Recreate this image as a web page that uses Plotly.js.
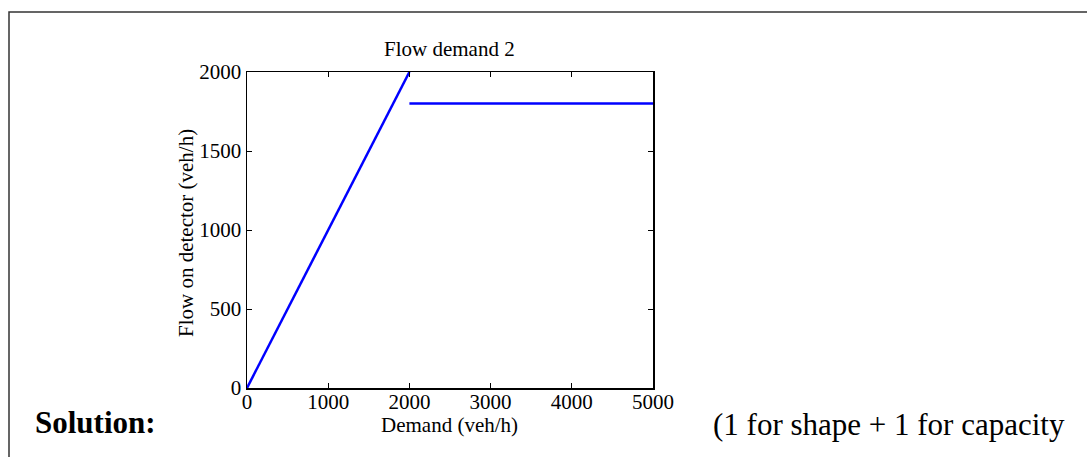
<!DOCTYPE html>
<html>
<head>
<meta charset="utf-8">
<script src="https://cdn.plot.ly/plotly-3.0.1.min.js"></script>
<style>
  html, body { margin: 0; padding: 0; background: #fff; }
  #chart { width: 1087px; height: 457px; }
</style>
</head>
<body>
<div id="chart"></div>
<script>
// Data
const risingDemand = [0, 2000];
const risingFlow = [0, 2000];
const capacityDemand = [2000, 5000];
const capacityFlow = [1800, 1800];
const xTicks = [0, 1000, 2000, 3000, 4000, 5000];
const yTicks = [0, 500, 1000, 1500, 2000];

const serif = 'Liberation Serif, Times New Roman, serif';
const L = 247, R = 653, T = 72, B = 388, W = 1087, H = 457;
const px2x = p => (p - L) / (R - L);
const py2y = p => (B - p) / (B - T);

const lineStyle = { color: '#0000ff', width: 2.5 };
const traces = [
  { x: risingDemand, y: risingFlow, mode: 'lines', line: lineStyle, hoverinfo: 'skip' },
  { x: capacityDemand, y: capacityFlow, mode: 'lines', line: lineStyle, hoverinfo: 'skip' }
];

const axisCommon = {
  showgrid: false, zeroline: false, showline: true, linecolor: '#000', linewidth: 1.5,
  mirror: 'ticks', ticks: 'inside', ticklen: 5, tickwidth: 1, tickcolor: '#000',
  tickfont: { family: serif, size: 21, color: '#000' }
};

const layout = {
  width: W, height: H,
  margin: { l: L, r: W - R, t: T, b: H - B, pad: 0 },
  paper_bgcolor: '#fff', plot_bgcolor: '#fff',
  showlegend: false,
  xaxis: Object.assign({}, axisCommon, {
    range: [0, 5000], tickvals: xTicks, ticktext: xTicks.map(String), ticklabelstandoff: -6
  }),
  yaxis: Object.assign({}, axisCommon, {
    range: [0, 2000], tickvals: yTicks, ticktext: yTicks.map(String)
  }),
  shapes: [{
    type: 'rect', xref: 'paper', yref: 'paper', layer: 'above',
    x0: px2x(9), x1: px2x(1110), y0: py2y(480), y1: py2y(12),
    line: { color: '#333', width: 1.5 }, fillcolor: 'rgba(0,0,0,0)'
  }],
  annotations: [
    { text: 'Flow demand 2', xref: 'paper', yref: 'paper', x: px2x(449), y: py2y(48.5),
      xanchor: 'center', yanchor: 'middle', showarrow: false,
      font: { family: serif, size: 21, color: '#000' } },
    { text: 'Demand (veh/h)', xref: 'paper', yref: 'paper', x: px2x(449), y: py2y(425),
      xanchor: 'center', yanchor: 'middle', showarrow: false,
      font: { family: serif, size: 21, color: '#000' } },
    { text: 'Flow on detector (veh/h)', xref: 'paper', yref: 'paper', x: px2x(186), y: py2y(233),
      xanchor: 'center', yanchor: 'middle', showarrow: false, textangle: -90,
      font: { family: serif, size: 21, color: '#000' } },
    { text: '<b>Solution:</b>', xref: 'paper', yref: 'paper', x: px2x(33), y: py2y(422.5),
      xanchor: 'left', yanchor: 'middle', showarrow: false,
      font: { family: serif, size: 31, color: '#000' } },
    { text: '(1 for shape + 1 for capacity', xref: 'paper', yref: 'paper', x: px2x(1067), y: py2y(424.5),
      xanchor: 'right', yanchor: 'middle', showarrow: false,
      font: { family: serif, size: 31, color: '#000' } }
  ]
};

Plotly.newPlot('chart', traces, layout, { displayModeBar: false, staticPlot: true });
</script>
</body>
</html>
